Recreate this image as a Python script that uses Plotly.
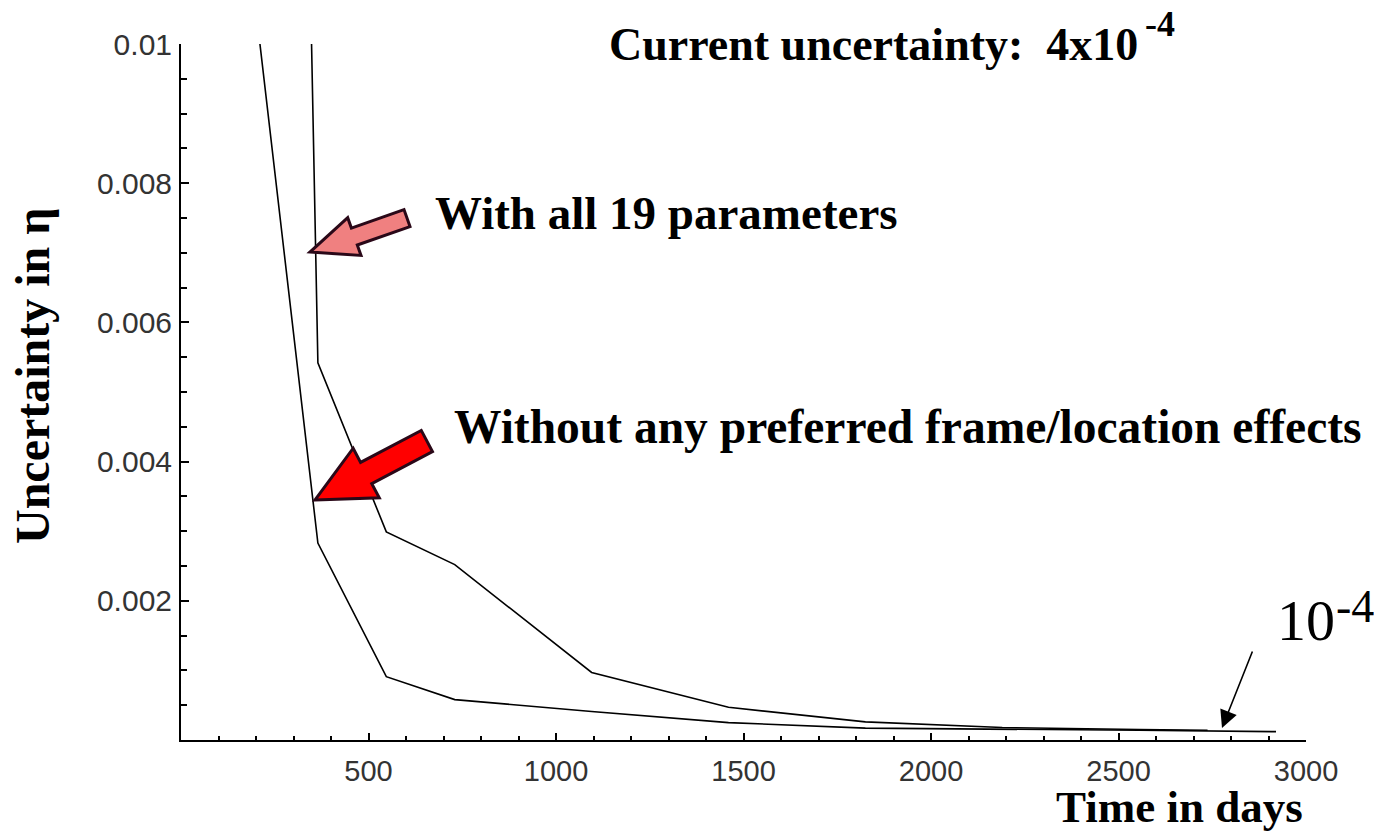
import plotly.graph_objects as go
import math

# ---------------- data ----------------
days_without = [182.5, 365, 547.5, 730, 1095, 1460, 1825, 2190, 2555, 2920]
unc_without = [0.0113, 0.00283, 0.00091, 0.00058, 0.00041, 0.00025, 0.00017, 0.00016, 0.00014, 0.00012]

days_with = [182.5, 365, 547.5, 730, 1095, 1460, 1825, 2190, 2555, 2737.5]
unc_with = [0.055, 0.00542, 0.00299, 0.00252, 0.00097, 0.00047, 0.00026, 0.00018, 0.00015, 0.00014]

x_ticks = [500, 1000, 1500, 2000, 2500, 3000]
x_ticktext = ["500", "1000", "1500", "2000", "2500", "3000"]
y_ticks = [0.002, 0.004, 0.006, 0.008, 0.01]
y_ticktext = ["0.002", "0.004", "0.006", "0.008", "0.01"]

# ---------------- layout geometry ----------------
W, H = 1374, 833
L, R, T, B = 181, 1306, 44, 740


def PX(px):
    return (px - L) / (R - L)


def PY(py):
    return (B - py) / (B - T)


fig = go.Figure()
fig.add_trace(go.Scatter(x=days_without, y=unc_without, mode="lines",
                         line=dict(color="black", width=1.6), showlegend=False))
fig.add_trace(go.Scatter(x=days_with, y=unc_with, mode="lines",
                         line=dict(color="black", width=1.6), showlegend=False))

xtickfont = dict(family="Liberation Sans", size=29, color="#333333")
ytickfont = dict(family="Liberation Sans", size=30, color="#333333")

fig.update_layout(
    width=W, height=H,
    margin=dict(l=L, r=W - R, t=T, b=H - B),
    paper_bgcolor="white", plot_bgcolor="white",
    showlegend=False,
    xaxis=dict(range=[0, 3000], showline=True, linecolor="black", linewidth=2,
               showgrid=False, zeroline=False, ticks="inside", ticklen=7,
               tickwidth=1.5, tickcolor="black", tickmode="array",
               tickvals=x_ticks, ticktext=x_ticktext, tickfont=xtickfont,
               ticklabelstandoff=4,
               minor=dict(tickmode="linear", tick0=0, dtick=100, ticks="inside",
                          ticklen=4, tickwidth=1.5, tickcolor="black", showgrid=False)),
    yaxis=dict(range=[0, 0.01], showline=True, linecolor="black", linewidth=2,
               showgrid=False, zeroline=False, ticks="inside", ticklen=8,
               tickwidth=1.5, tickcolor="black", tickmode="array",
               tickvals=y_ticks, ticktext=y_ticktext, tickfont=ytickfont,
               ticklabelstandoff=1,
               minor=dict(tickmode="linear", tick0=0, dtick=0.0005, ticks="inside",
                          ticklen=6, tickwidth=1.5, tickcolor="black", showgrid=False)),
)

serif_bold = dict(family="Liberation Serif", color="black")
NB = "\u00a0"

annotations = [
    dict(text="<b>Current uncertainty:" + NB * 2 + "4x10</b>",
         x=PX(607), y=PY(45), xanchor="left", yanchor="middle",
         font=dict(size=46, **serif_bold)),
    dict(text="<b>-4</b>",
         x=PX(1143), y=PY(24), xanchor="left", yanchor="middle",
         font=dict(size=36, **serif_bold)),
    dict(text="<b>With all 19 parameters</b>",
         x=PX(433), y=PY(213), xanchor="left", yanchor="middle",
         font=dict(size=47, **serif_bold)),
    dict(text="<b>Without any preferred frame/location effects</b>",
         x=PX(452), y=PY(427), xanchor="left", yanchor="middle",
         font=dict(size=47.5, **serif_bold)),
    dict(text="10",
         x=PX(1275), y=PY(620), xanchor="left", yanchor="middle",
         font=dict(size=58, family="Liberation Serif", color="black")),
    dict(text="-4",
         x=PX(1334), y=PY(606), xanchor="left", yanchor="middle",
         font=dict(size=46, family="Liberation Serif", color="black")),
    dict(text="<b>Time in days</b>",
         x=PX(1179), y=PY(807), xanchor="center", yanchor="middle",
         font=dict(size=45, **serif_bold)),
    dict(text="<b>Uncertainty in \u03b7</b>", textangle=-90,
         x=PX(32), y=PY(376), xanchor="center", yanchor="middle",
         font=dict(size=48, **serif_bold)),
]
for a in annotations:
    a.update(xref="paper", yref="paper", showarrow=False)
    fig.add_annotation(**a)

# thin arrow pointing to the converged curves (10^-4)
fig.add_annotation(x=2776, y=0.000172, xref="x", yref="y", text="",
                   showarrow=True, ax=31, ay=-78, arrowhead=2, arrowsize=2.2,
                   arrowwidth=1.6, arrowcolor="black")


# block arrows (pixel-sized shapes anchored at the arrow tip)
def block_arrow(tip_day, tip_val, tail_dx, tail_dy, head_len, head_hw, shaft_hw,
                fill, outline):
    length = math.hypot(tail_dx, tail_dy)
    ux, uy = tail_dx / length, tail_dy / length
    nx, ny = -uy, ux
    pts_local = [(0, 0), (head_len, head_hw), (head_len, shaft_hw), (length, shaft_hw),
                 (length, -shaft_hw), (head_len, -shaft_hw), (head_len, -head_hw)]
    pts = []
    for a, b in pts_local:
        sx = a * ux + b * nx
        sy = a * uy + b * ny
        pts.append((sx, -sy))  # pixel sizemode: positive y is up
    path = "M" + " L".join(f"{x:.1f},{y:.1f}" for x, y in pts) + " Z"
    fig.add_shape(type="path", path=path, xref="x", yref="y",
                  xsizemode="pixel", ysizemode="pixel",
                  xanchor=tip_day, yanchor=tip_val,
                  fillcolor=fill, line=dict(color=outline, width=3), layer="above")


block_arrow(344, 0.00701, 97, -34, 47, 20, 9, "#f08080", "#2a0818")
block_arrow(357, 0.003448, 112, -59, 58, 28, 12, "#ff0000", "#2a0818")

fig.write_html("out.html", config={"displayModeBar": False},
               post_script="document.body.style.margin='0';")
